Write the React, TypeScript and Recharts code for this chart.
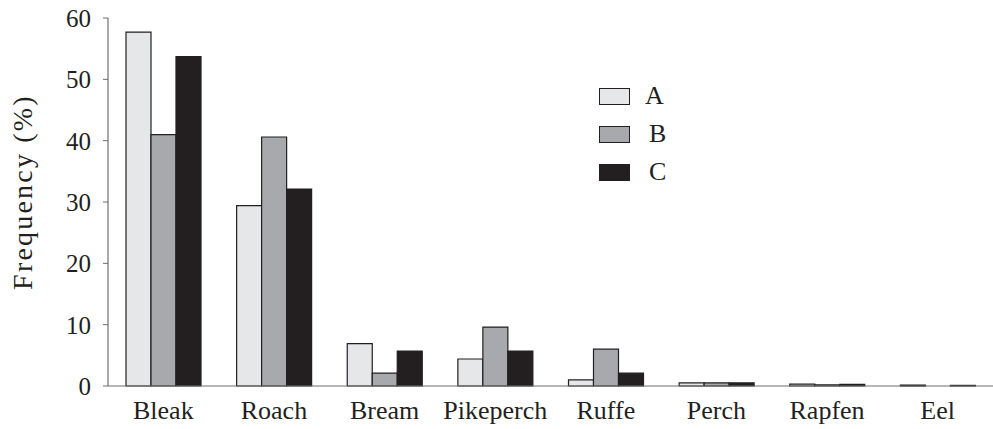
import { BarChart, Bar, XAxis, YAxis } from 'recharts';

const species = ['Bleak', 'Roach', 'Bream', 'Pikeperch', 'Ruffe', 'Perch', 'Rapfen', 'Eel'];
const seriesA = [57.7, 29.4, 6.9, 4.4, 1.0, 0.5, 0.3, 0.15];
const seriesB = [41.0, 40.6, 2.1, 9.6, 6.0, 0.5, 0.2, 0];
const seriesC = [53.7, 32.1, 5.7, 5.7, 2.1, 0.5, 0.25, 0.1];
const yTicks = [0, 10, 20, 30, 40, 50, 60];
const seriesNames = ['A', 'B', 'C'] as const;

const data = species.map((name, i) => ({ name, A: seriesA[i], B: seriesB[i], C: seriesC[i] }));

const FONT = '"Liberation Serif", "DejaVu Serif", serif';
const colors = { A: '#e6e7e8', B: '#a7a9ac', C: '#231f20' };
const edge = '#231f20';
const textColor = '#231f20';

function LegendBox() {
  return (
    <div style={{ position: 'absolute', left: 599, top: 77, fontFamily: FONT, fontSize: 26, color: textColor }}>
      {seriesNames.map((k, i) => (
        <div key={k} style={{ display: 'flex', alignItems: 'center', height: 38 }}>
          <div style={{ width: 31, height: 17, background: colors[k], border: `1.2px solid ${edge}`, boxSizing: 'border-box' }} />
          <span style={{ marginLeft: i === 0 ? 15 : 19 }}>{k}</span>
        </div>
      ))}
    </div>
  );
}

export default function App() {
  document.body.style.margin = '0';
  return (
    <div style={{ position: 'relative', width: 993, height: 429, background: '#fff' }}>
      <BarChart width={993} height={429} data={data} margin={{ top: 18, right: 0, bottom: 0, left: 0 }} barGap={0} barSize={25}>
        <YAxis
          domain={[0, 60]}
          ticks={yTicks}
          width={108}
          tickSize={5}
          tickMargin={12}
          axisLine={{ stroke: '#6d6e71', strokeWidth: 1.2 }}
          tickLine={{ stroke: '#6d6e71' }}
          tick={{ fill: textColor, fontSize: 25, fontFamily: FONT }}
          label={{
            value: 'Frequency (%)',
            angle: -90,
            position: 'insideLeft',
            offset: 22,
            dy: -10,
            style: { textAnchor: 'middle', fill: textColor, fontSize: 28, fontFamily: FONT, letterSpacing: 2.2 },
          }}
        />
        <XAxis
          dataKey="name"
          height={43}
          tickLine={false}
          axisLine={{ stroke: '#6d6e71', strokeWidth: 1.2 }}
          tick={{ fill: textColor, fontSize: 26, fontFamily: FONT }}
          tickMargin={9}
          interval={0}
        />
        <Bar dataKey="A" fill={colors.A} stroke={edge} strokeWidth={1.2} isAnimationActive={false} />
        <Bar dataKey="B" fill={colors.B} stroke={edge} strokeWidth={1.2} isAnimationActive={false} />
        <Bar dataKey="C" fill={colors.C} stroke={edge} strokeWidth={1.2} isAnimationActive={false} />
      </BarChart>
      <LegendBox />
    </div>
  );
}
